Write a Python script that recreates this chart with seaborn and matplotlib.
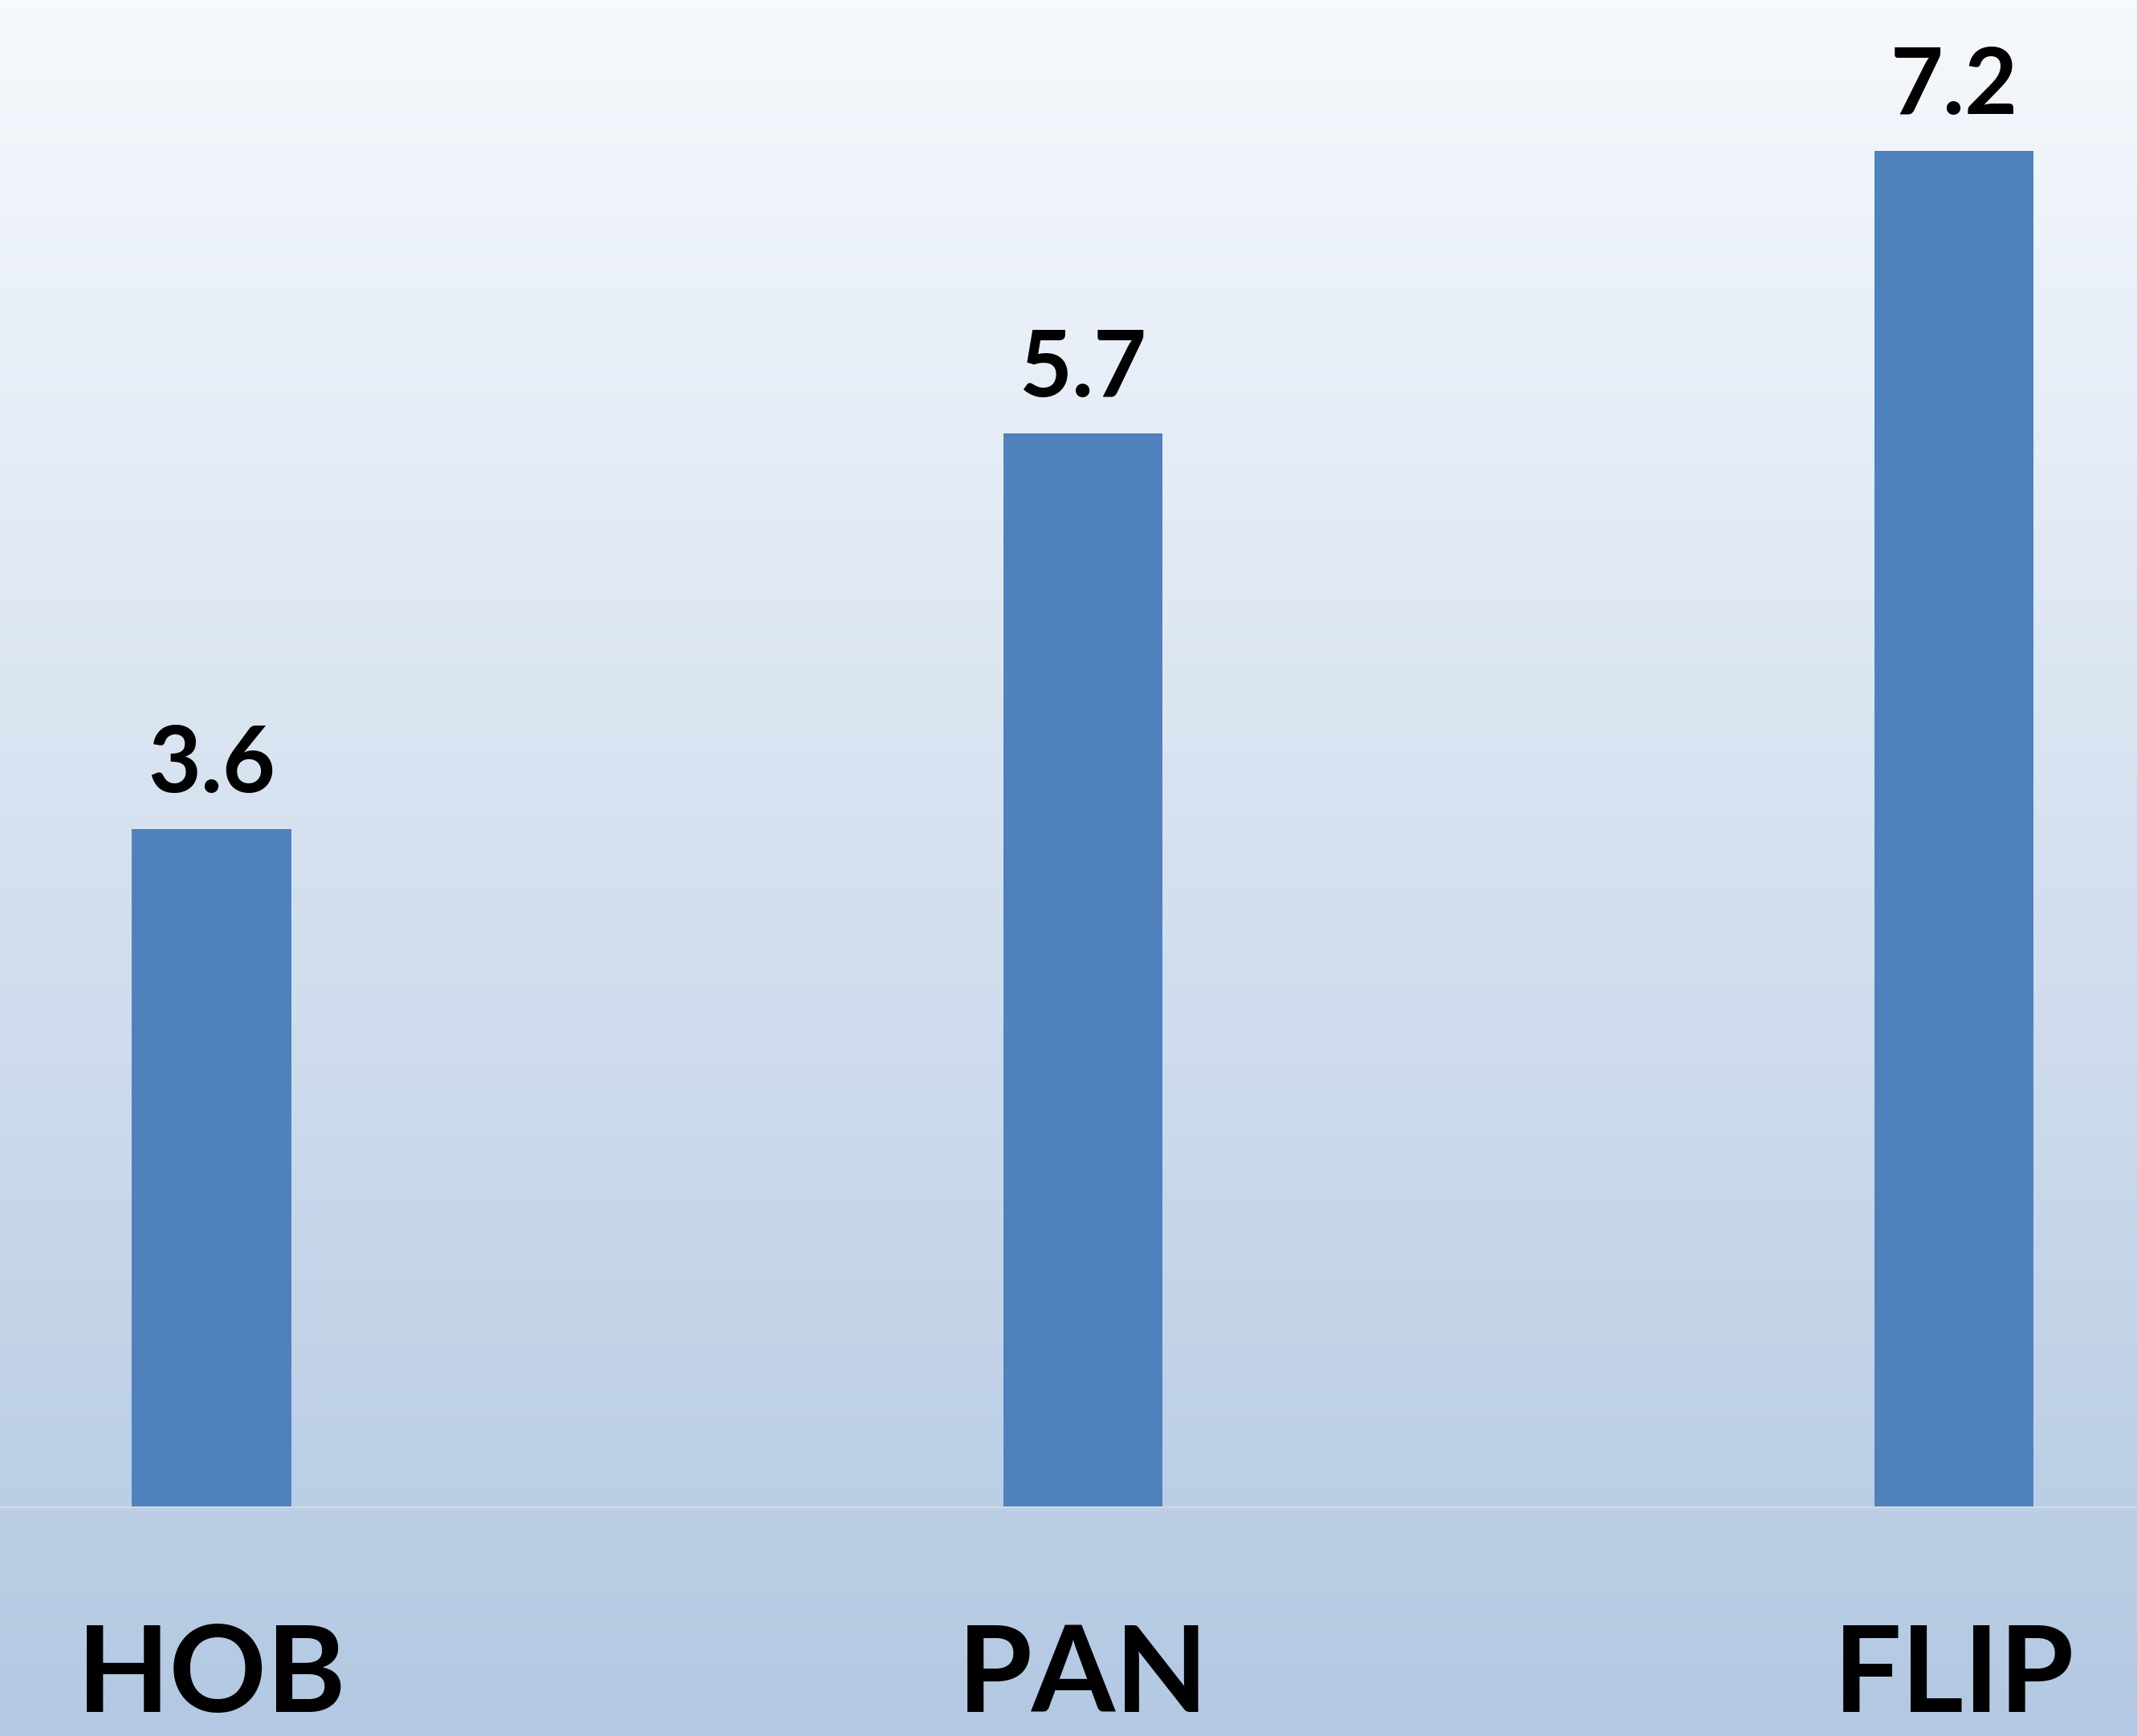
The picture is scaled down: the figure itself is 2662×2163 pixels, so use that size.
import numpy as np
import pandas as pd
import matplotlib
matplotlib.use("Agg")
import matplotlib.pyplot as plt
from matplotlib.colors import LinearSegmentedColormap
import seaborn as sns

# data
methods = ["HOB", "PAN", "FLIP"]
values = [3.6, 5.7, 7.2]

df = pd.DataFrame({"method": methods, "value": values})

sns.set_style("white")
plt.rcParams["font.family"] = ["Lato", "DejaVu Sans"]

fig = plt.figure(figsize=(26.62, 21.63), dpi=100)

# vertical gradient behind everything
bg = fig.add_axes([0, 0, 1, 1], zorder=0)
grad = LinearSegmentedColormap.from_list("bg", ["#f6f9fd", "#b3c8e2"])
bg.imshow(np.linspace(0, 1, 256).reshape(-1, 1), aspect="auto", cmap=grad,
          extent=[0, 1, 0, 1], origin="upper")
bg.axis("off")

ax = fig.add_axes([0, 1 - 1878 / 2163, 1, 1878 / 2163], zorder=1)
ax.patch.set_alpha(0)

sns.barplot(data=df, x="method", y="value", color="#4f81bd", saturation=1,
            width=0.183, linewidth=0, ax=ax)

ax.set_xlim(-0.243, 2.21)
ax.set_ylim(0, 8.0)
ax.set_xlabel("")
ax.set_ylabel("")
ax.set_yticks([])

for i, v in enumerate(values):
    ax.annotate(f"{v:.1f}", (i, v), xytext=(0, 33), textcoords="offset points",
                ha="center", va="baseline", fontsize=82, fontweight="bold",
                color="black")

ax.tick_params(axis="x", length=0, pad=104, labelsize=108, labelcolor="black")
for lbl in ax.get_xticklabels():
    lbl.set_fontweight("bold")

for s in ["top", "left", "right"]:
    ax.spines[s].set_visible(False)
ax.spines["bottom"].set_color("#d9d9d9")
ax.spines["bottom"].set_linewidth(1.5)

plt.savefig("out.png", dpi=100)
